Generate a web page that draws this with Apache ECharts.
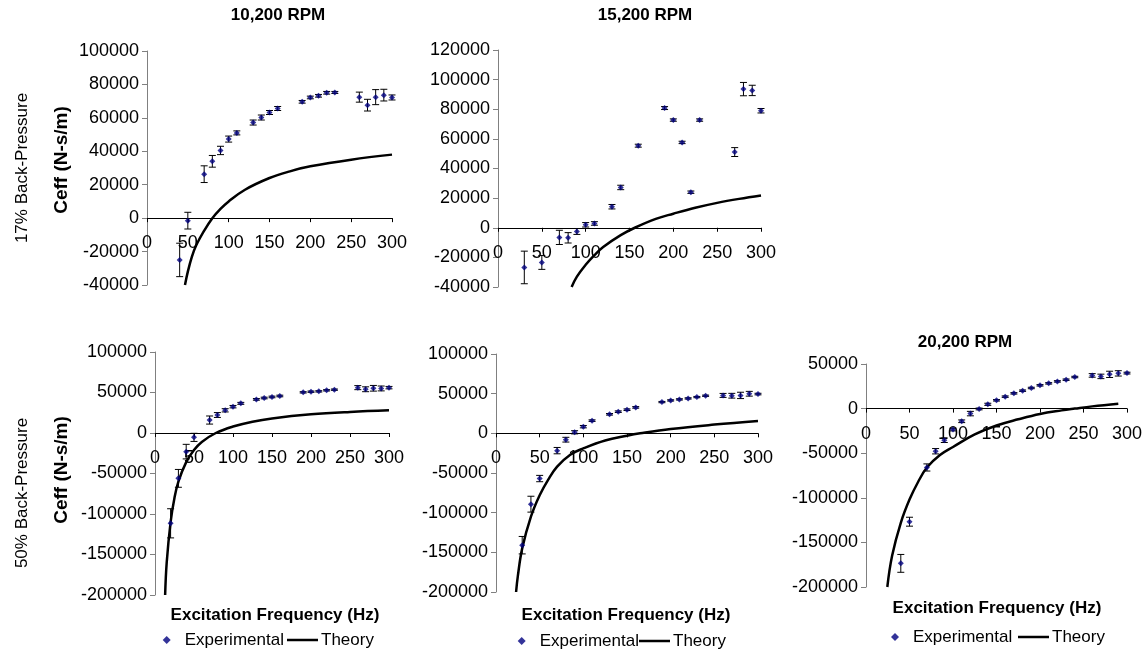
<!DOCTYPE html>
<html>
<head>
<meta charset="utf-8">
<script src="https://cdn.jsdelivr.net/npm/echarts@6/dist/echarts.min.js"></script>
<style>html,body{margin:0;padding:0;background:#fff}#c{width:1148px;height:654px}</style>
</head>
<body>
<div id="c"></div>
<script>
// ---- Data ----
// 10,200 RPM, 17% back-pressure
const A_freq = [40,50,70,80,90,100,110,130,140,150,160,190,200,210,220,230,260,270,280,290,300];
const A_ceff = [-25000,-1500,26300,34000,40500,47300,51000,57200,60200,63200,65600,69600,72200,73200,75000,75200,72400,67600,72400,73600,72200];
const A_err  = [10000,5000,5000,3500,2500,1800,1200,1500,1500,1200,1200,800,800,800,800,600,3000,3500,4500,3500,1500];
const A_thF  = [46.5,50,55,60,70,80,90,100,120,150,175,200,250,300];
const A_thC  = [-40000,-32000,-23000,-16500,-7500,0,5500,10000,17000,24000,28000,31000,35000,38000];
// 15,200 RPM, 17% back-pressure
const B_freq = [30,50,70,80,90,100,110,130,140,160,190,200,210,220,230,270,280,290,300];
const B_ceff = [-26800,-23400,-6500,-6800,-2500,2000,2900,14200,27200,55400,80800,72700,57600,24000,72700,51100,93600,92700,79000];
const B_err  = [11000,4700,4800,3500,2000,1500,1200,1500,1500,1000,1000,800,800,800,800,3000,4500,3500,1500];
const B_thF  = [84,90,100,110,120,140,156,180,200,225,250,275,300];
const B_thC  = [-40000,-33000,-25000,-18500,-13000,-5000,0,6000,9500,13500,16800,19500,21800];
// 10,200 RPM, 50% back-pressure
const C_freq = [20,30,40,50,70,80,90,100,110,130,140,150,160,190,200,210,220,230,260,270,280,290,300];
const C_ceff = [-111500,-56000,-23000,-5400,16000,22200,28000,32500,36600,41500,43200,44500,45700,50200,51000,51400,52700,53500,56000,54000,55200,55000,56000];
const C_err  = [18000,11000,9000,5000,5000,3000,2000,1500,1200,1000,1000,1000,1000,800,800,800,800,800,2500,3000,3500,3000,1500];
const C_thF  = [13,15,20,25,30,40,50,60,78,100,125,150,200,250,300];
const C_thC  = [-200000,-160000,-110000,-80000,-60000,-36000,-21000,-11000,0,8000,14000,18000,23000,26000,28000];
// 15,200 RPM, 50% back-pressure
const D_freq = [30,40,50,70,80,90,100,110,130,140,150,160,190,200,210,220,230,240,260,270,280,290,300];
const D_ceff = [-141000,-89300,-57000,-21800,-8000,1300,8400,16000,24000,27300,29800,32700,39400,41500,42800,44000,45700,47400,47800,47400,47800,49900,49500];
const D_err  = [11000,10000,4000,4000,3000,2000,1500,1000,1000,1000,1000,1000,800,800,800,800,800,800,2500,3000,4000,3000,1000];
const D_thF  = [23,25,30,40,50,60,70,85,100,125,150,165,200,250,300];
const D_thC  = [-200000,-180000,-145000,-105000,-78000,-58000,-42000,-27000,-19000,-9000,-3000,0,5500,11000,15500];
// 20,200 RPM, 50% back-pressure
const E_freq = [40,50,70,80,90,100,110,120,130,140,150,160,170,180,190,200,210,220,230,240,260,270,280,290,300];
const E_ceff = [-173500,-126800,-66000,-47800,-35500,-23500,-14200,-5600,-400,4800,9300,13400,17100,20100,23100,26100,28300,30500,32400,35400,37200,36100,38400,39500,39800];
const E_err  = [10000,5000,4000,3000,2500,1500,1500,2500,1000,1200,800,800,800,800,800,800,800,800,800,800,2000,2500,3500,3000,1000];
const E_thF  = [24.5,30,40,50,60,70,85,100,125,150,175,200,225,240,260,290];
const E_thC  = [-200000,-165000,-128000,-102000,-82000,-66000,-52000,-43000,-29000,-19000,-12000,-6000,-2000,0,2500,5500];

// Axis ranges
const xRange = {min:0, max:300, interval:50};
const yRanges = {
  A:{min:-40000, max:100000, interval:20000},
  B:{min:-40000, max:120000, interval:20000},
  C:{min:-200000, max:100000, interval:50000},
  D:{min:-200000, max:100000, interval:50000},
  E:{min:-200000, max:50000, interval:50000}
};
const texts = {
  titles:['10,200 RPM','15,200 RPM','20,200 RPM'],
  rows:['17% Back-Pressure','50% Back-Pressure'],
  yName:'Ceff (N-s/m)',
  xName:'Excitation Frequency (Hz)',
  exp:'Experimental', th:'Theory'
};

// ---- Layout (pixels) ----
const layout = {
  A:{left:147, top:51, width:245, height:234},
  B:{left:498, top:50, width:263, height:237},
  C:{left:155, top:352, width:234, height:243},
  D:{left:496, top:354, width:262, height:238},
  E:{left:866, top:364, width:261, height:223}
};
const FONT = 'Liberation Sans, Arial, Helvetica, sans-serif';

const sets = {
  A:[A_freq,A_ceff,A_err,A_thF,A_thC],
  B:[B_freq,B_ceff,B_err,B_thF,B_thC],
  C:[C_freq,C_ceff,C_err,C_thF,C_thC],
  D:[D_freq,D_ceff,D_err,D_thF,D_thC],
  E:[E_freq,E_ceff,E_err,E_thF,E_thC]
};
const keys = ['A','B','C','D','E'];

const grid = [], xAxis = [], yAxis = [], series = [];
keys.forEach((k, i) => {
  const L = layout[k];
  const Y = yRanges[k];
  // place the x axis line at value 0 of the y scale (offset upward from the grid bottom)
  const zeroFromBottom = L.height * (0 - Y.min) / (Y.max - Y.min);
  grid.push({left:L.left, top:L.top, width:L.width, height:L.height, containLabel:false});
  xAxis.push({
    type:'value', gridIndex:i, min:xRange.min, max:xRange.max, interval:xRange.interval,
    position:'bottom', offset:-zeroFromBottom,
    axisLine:{show:true, onZero:false, lineStyle:{color:'#000', width:1}},
    axisTick:{show:true, inside:false, length:4, lineStyle:{color:'#000'}},
    axisLabel:{color:'#000', fontSize:18, fontFamily:FONT, margin:16},
    splitLine:{show:false}
  });
  yAxis.push({
    type:'value', gridIndex:i, min:Y.min, max:Y.max, interval:Y.interval,
    axisLine:{show:true, onZero:false, lineStyle:{color:'#808080', width:1}},
    axisTick:{show:true, inside:false, length:5, lineStyle:{color:'#808080'}},
    axisLabel:{color:'#000', fontSize:18, fontFamily:FONT, margin:8, formatter:v => String(v)},
    splitLine:{show:false}
  });
  const [f, c, e, tf, tc] = sets[k];
  series.push({
    name:texts.th, type:'line', xAxisIndex:i, yAxisIndex:i,
    data: tf.map((x, j) => [x, tc[j]]),
    smooth:0.4, showSymbol:false, symbol:'none',
    lineStyle:{color:'#000', width:2.5}, itemStyle:{color:'#000'},
    z:2, silent:true, animation:false
  });
  series.push({
    name:'err'+k, type:'custom', xAxisIndex:i, yAxisIndex:i,
    data: f.map((x, j) => [x, c[j], e[j]]),
    encode:{x:0, y:1},
    renderItem:function(params, api){
      const x = api.value(0), y = api.value(1), d = api.value(2);
      const p1 = api.coord([x, y + d]);
      const p2 = api.coord([x, y - d]);
      const h = 3.5;
      const st = {stroke:'#000', lineWidth:1};
      return {type:'group', children:[
        {type:'line', shape:{x1:p1[0], y1:p1[1], x2:p2[0], y2:p2[1]}, style:st},
        {type:'line', shape:{x1:p1[0]-h, y1:p1[1], x2:p1[0]+h, y2:p1[1]}, style:st},
        {type:'line', shape:{x1:p2[0]-h, y1:p2[1], x2:p2[0]+h, y2:p2[1]}, style:st}
      ]};
    },
    z:3, silent:true, animation:false
  });
  series.push({
    name:texts.exp, type:'scatter', xAxisIndex:i, yAxisIndex:i,
    data: f.map((x, j) => [x, c[j]]),
    symbol:'diamond', symbolSize:6,
    itemStyle:{color:'#000080'}, z:4, animation:false
  });
});

// Legends for bottom row
const legendPos = [
  {expX:166.7, thX:287, y:640},
  {expX:521.7, thX:639, y:641},
  {expX:895, thX:1018, y:637}
];
const legend = [];
legendPos.forEach(p => {
  legend.push({
    data:[{name:texts.exp, icon:'diamond'}], left:p.expX - 4, top:p.y - 10, padding:0,
    itemWidth:8, itemHeight:8, selectedMode:false,
    itemStyle:{color:'#000080'},
    textStyle:{color:'#000', fontSize:17, fontFamily:FONT, lineHeight:20, padding:[0,0,0,9]}
  });
  legend.push({
    data:[{name:texts.th, icon:'rect'}], left:p.thX, top:p.y - 10, padding:0,
    itemWidth:31, itemHeight:2.5, selectedMode:false,
    itemStyle:{color:'#000'},
    textStyle:{color:'#000', fontSize:17, fontFamily:FONT, lineHeight:20, padding:[0,0,0,-2]}
  });
});

function txt(s, x, y, size, bold, rot){
  return {type:'text', x:x, y:y, rotation:rot ? Math.PI/2 : 0, silent:true,
    style:{text:s, fontSize:size, fontWeight:bold?'bold':'normal', fontFamily:FONT, fill:'#000',
      textAlign:'center', textVerticalAlign:'middle'}};
}
const graphic = [
  txt(texts.titles[0], 278, 15, 17, true, false),
  txt(texts.titles[1], 645, 15, 17, true, false),
  txt(texts.titles[2], 965, 342, 17, true, false),
  txt(texts.rows[0], 22, 168, 17, false, true),
  txt(texts.rows[1], 22, 493, 17, false, true),
  txt(texts.yName, 62, 160, 19, true, true),
  txt(texts.yName, 62, 470, 19, true, true),
  txt(texts.xName, 275, 615, 17, true, false),
  txt(texts.xName, 626, 615, 17, true, false),
  txt(texts.xName, 997, 608, 17, true, false)
];

const chart = echarts.init(document.getElementById('c'), null, {renderer:'canvas'});
chart.setOption({
  animation:false, backgroundColor:'#fff',
  grid, xAxis, yAxis, series, legend, graphic,
  tooltip:{show:false}
});
</script>
</body>
</html>
